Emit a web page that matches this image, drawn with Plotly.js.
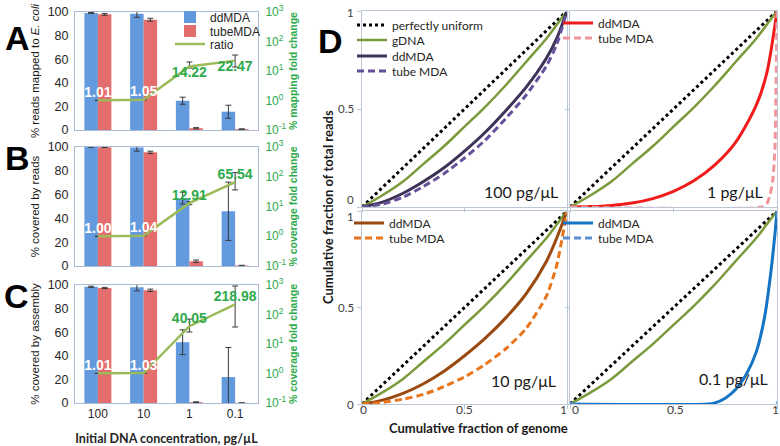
<!DOCTYPE html>
<html><head><meta charset="utf-8">
<script src="https://cdn.plot.ly/plotly-3.0.1.min.js"></script>
<style>html,body{margin:0;padding:0;background:#fff}#chart{width:780px;height:446px}</style>
</head><body><div id="chart"></div>
<script>
// ---------- Data: panels A-C ----------
const categories = ['100', '10', '1', '0.1'];
const logTickVals = [0.1, 1, 10, 100, 1000];
const logTickText = ['10<sup>-1</sup>', '10<sup>0</sup>', '10<sup>1</sup>', '10<sup>2</sup>', '10<sup>3</sup>'];

const ddA = [99.2, 98.5, 24.8, 15.5];
const ddAErr = [0.4, 3, 3, 5.5];
const tubeA = [98, 93.5, 1.5, 0.7];
const tubeAErr = [0.8, 1.2, 0.5, 0.3];
const ratioA = [1.01, 1.05, 14.22, 22.47];
const ratioAHi = [1.01, 1.05, 20.2, 34.8];
const ratioALo = [1.01, 1.05, 12.6, 13.7];

const ddB = [100, 99.5, 57, 46];
const ddBErr = [0.3, 3, 5, 24.5];
const tubeB = [99.8, 95.5, 4, 0.4];
const tubeBErr = [0.3, 1, 1, 0.2];
const ratioB = [1.00, 1.04, 12.91, 65.54];
const ratioBHi = [1.00, 1.04, 14.5, 137];
const ratioBLo = [1.00, 1.04, 11.5, 36];

const ddC = [98.5, 98, 51.5, 22];
const ddCErr = [0.5, 3, 10.5, 25];
const tubeC = [97.5, 95.5, 0.7, 0.1];
const tubeCErr = [0.5, 1, 0.3, 0];
const ratioC = [1.01, 1.03, 40.05, 218.98];
const ratioCHi = [1.01, 1.03, 70, 925];
const ratioCLo = [1.01, 1.03, 25.5, 37.7];

// ---------- Data: panel D (Lorenz curves) ----------
const uniformX = [0, 1];
const uniformY = [0, 1];
const gdnaX = [0, 0.1, 0.2, 0.3, 0.4, 0.5, 0.6, 0.7, 0.8, 0.9, 0.95, 1];
const gdnaY = [0, 0.06, 0.13, 0.22, 0.31, 0.41, 0.51, 0.62, 0.74, 0.86, 0.93, 1];
const curveX = [0, 0.1, 0.2, 0.3, 0.4, 0.5, 0.6, 0.7, 0.8, 0.9, 0.95, 1];
const dd100Y = [0, 0.025, 0.07, 0.13, 0.2, 0.285, 0.38, 0.49, 0.61, 0.76, 0.86, 1];
const tube100Y = [0, 0.015, 0.05, 0.105, 0.17, 0.25, 0.34, 0.45, 0.57, 0.72, 0.83, 1];
const dd10Y = [0, 0.02, 0.055, 0.105, 0.17, 0.25, 0.34, 0.445, 0.57, 0.74, 0.86, 1];
const tube10Y = [0, 0.008, 0.025, 0.05, 0.09, 0.14, 0.205, 0.285, 0.39, 0.56, 0.72, 1];
const dd1Y = [0, 0.002, 0.008, 0.02, 0.043, 0.08, 0.135, 0.215, 0.33, 0.52, 0.68, 1];
const tube1X = [0, 0.93, 0.95, 0.966, 0.98, 0.99, 0.995, 1];
const tube1Y = [0, 0, 0.015, 0.06, 0.14, 0.3, 0.6, 1];
const dd01X = [0, 0.665, 0.7, 0.75, 0.8, 0.85, 0.9, 0.94, 0.97, 0.99, 1];
const dd01Y = [0, 0, 0.006, 0.03, 0.075, 0.15, 0.27, 0.45, 0.68, 0.88, 1];
const tube01X = [0, 0.997, 1];
const tube01Y = [0, 0, 1];
const panelTickVals = [0, 0.5, 1];
const panelTickText = ['0', '0.5', '1'];

// ---------- Helpers ----------
const W = 780, H = 446;
const px = p => p / W;
const py = p => 1 - p / H;
const boxColor = '#a9bcd3';
const dBox = '#bcc7d6';
const green = '#2eaa4c';
const ratioGreen = '#9bbb59';
const blue = '#639ade';
const red = '#e46d6d';
const errColor = '#3a3a3a';
const arialF = 'Liberation Sans, Arial, sans-serif';
const lato = 'Lato, Carlito, sans-serif';

const traces = [];
const labelColors = ['#ffffff', '#ffffff', green, green];

function barPanel(dd, ddErr, tube, tubeErr, ratio, hi, lo, xa, ya, ya2, textPos, legs) {
  traces.push({
    type: 'bar', name: 'ddMDA', x: categories, y: dd, xaxis: xa, yaxis: ya,
    marker: { color: blue, line: { width: 0 } },
    error_y: { type: 'data', array: ddErr, color: errColor, thickness: 1, width: 3 },
    showlegend: !!legs, legend: legs ? legs[0] : undefined
  });
  traces.push({
    type: 'bar', name: 'tubeMDA', x: categories, y: tube, xaxis: xa, yaxis: ya,
    marker: { color: red, line: { width: 0 } },
    error_y: { type: 'data', array: tubeErr, color: errColor, thickness: 1, width: 3 },
    showlegend: !!legs, legend: legs ? legs[1] : undefined
  });
  traces.push({
    type: 'scatter', mode: 'lines+text', name: 'ratio', x: categories, y: ratio, xaxis: xa, yaxis: ya2,
    line: { color: ratioGreen, width: 2.5 },
    text: ratio.map(v => '<b>' + v.toFixed(2) + '</b>'),
    textposition: textPos,
    textfont: { family: arialF, size: 14, color: labelColors },
    cliponaxis: false,
    error_y: {
      type: 'data', symmetric: false,
      array: hi.map((h, i) => h - ratio[i]),
      arrayminus: lo.map((l, i) => ratio[i] - l),
      color: errColor, thickness: 1, width: 3
    },
    showlegend: !!legs, legend: legs ? legs[2] : undefined
  });
}

barPanel(ddA, ddAErr, tubeA, tubeAErr, ratioA, ratioAHi, ratioALo, 'x', 'y', 'y2',
  ['top center', 'top center', 'bottom center', 'bottom center'], ['legend', 'legend2', 'legend3']);
barPanel(ddB, ddBErr, tubeB, tubeBErr, ratioB, ratioBHi, ratioBLo, 'x2', 'y3', 'y4',
  ['top center', 'top center', 'top center', 'top center'], null);
barPanel(ddC, ddCErr, tubeC, tubeCErr, ratioC, ratioCHi, ratioCLo, 'x3', 'y5', 'y6',
  ['top center', 'top center', 'top center', 'top center'], null);

// Panel D
const dPanels = [
  { xa: 'x4', ya: 'y7', ddX: curveX, ddY: dd100Y, tX: curveX, tY: tube100Y, ddC: '#3d3258', tC: '#65519a', legs: ['legend4', 'legend5', 'legend6', 'legend7'] },
  { xa: 'x5', ya: 'y8', ddX: curveX, ddY: dd1Y, tX: tube1X, tY: tube1Y, ddC: '#f01c1c', tC: '#f2959b', legs: [null, null, 'legend8', 'legend9'] },
  { xa: 'x6', ya: 'y9', ddX: curveX, ddY: dd10Y, tX: curveX, tY: tube10Y, ddC: '#9a4a10', tC: '#e8741c', legs: [null, null, 'legend10', 'legend11'] },
  { xa: 'x7', ya: 'y10', ddX: dd01X, ddY: dd01Y, tX: tube01X, tY: tube01Y, ddC: '#1473c4', tC: '#5b8fd0', legs: [null, null, 'legend12', 'legend13'] }
];
dPanels.forEach(p => {
  traces.push({ type: 'scatter', mode: 'lines', name: 'perfectly uniform', x: uniformX, y: uniformY,
    xaxis: p.xa, yaxis: p.ya, line: { color: '#000', width: 3, dash: '3px,3px' },
    showlegend: !!p.legs[0], legend: p.legs[0] || undefined });
  traces.push({ type: 'scatter', mode: 'lines', name: 'gDNA', x: gdnaX, y: gdnaY,
    xaxis: p.xa, yaxis: p.ya, line: { color: '#7a9a3c', width: 2.5, shape: 'spline' },
    showlegend: !!p.legs[1], legend: p.legs[1] || undefined });
  traces.push({ type: 'scatter', mode: 'lines', name: 'ddMDA', x: p.ddX, y: p.ddY,
    xaxis: p.xa, yaxis: p.ya, line: { color: p.ddC, width: 3, shape: 'spline', smoothing: 0.8 },
    showlegend: true, legend: p.legs[2] });
  traces.push({ type: 'scatter', mode: 'lines', name: 'tube MDA', x: p.tX, y: p.tY,
    xaxis: p.xa, yaxis: p.ya, line: { color: p.tC, width: 3, dash: '7px,4px', shape: 'spline', smoothing: 0.6 },
    showlegend: true, legend: p.legs[3] });
});

// ---------- Layout ----------
const barX = [px(75), px(258)];
const domA = [py(130), py(12)];
const domB = [py(266), py(147)];
const domC = [py(403), py(285)];

function catAxis(anchor, showLabels, title) {
  const a = {
    domain: barX, anchor: anchor, type: 'category', showline: true, mirror: true, linecolor: boxColor, linewidth: 1,
    showgrid: false, zeroline: false, ticks: '', showticklabels: showLabels,
    tickfont: { family: arialF, size: 12, color: '#262626' }, fixedrange: true
  };
  if (title) a.title = { text: title, font: { family: lato, size: 12.5, color: '#262626', weight: 'bold' }, standoff: 13 };
  return a;
}
function leftAxis(anchor, dom, title) {
  return {
    domain: dom, anchor: anchor, range: [0, 100], dtick: 20, showline: true, mirror: true, linecolor: boxColor,
    showgrid: false, zeroline: false, ticks: 'outside', ticklen: 3, tickcolor: 'rgba(0,0,0,0)',
    tickfont: { family: arialF, size: 12.5, color: '#262626' },
    title: { text: title, font: { family: arialF, size: 11.5, color: '#1a1a1a' }, standoff: 5 }
  };
}
function rightAxis(anchor, over, title) {
  return {
    overlaying: over, anchor: anchor, side: 'right', type: 'log', range: [-1, 3],
    tickvals: logTickVals, ticktext: logTickText, showgrid: false, zeroline: false, showline: false,
    ticks: 'outside', ticklen: 4, tickcolor: 'rgba(0,0,0,0)',
    tickfont: { family: arialF, size: 12, color: green },
    title: { text: title, font: { family: arialF, size: 10.5, color: green, weight: 'bold' }, standoff: 4 }
  };
}

const dxL = [px(362), px(567)], dxR = [px(570), px(777)];
const dyT = [py(207), py(11)], dyB = [py(404), py(211)];
const dTickFont = { family: lato, size: 12, color: '#404040' };
function dX(dom, anchor) {
  return { domain: dom, anchor: anchor, range: [0, 1], tickvals: panelTickVals,
    showticklabels: false, ticks: 'outside', ticklen: 4, tickcolor: dBox, showline: true, mirror: true,
    linecolor: dBox, showgrid: false, zeroline: false };
}
function dY(dom, anchor) {
  return { domain: dom, anchor: anchor, range: [0, 1], tickvals: panelTickVals,
    showticklabels: false, ticks: 'outside', ticklen: 4, tickcolor: dBox, showline: true, mirror: true,
    linecolor: dBox, showgrid: false, zeroline: false };
}

function leg(xp, yp, fam, size) {
  return { x: px(xp), y: py(yp), xanchor: 'left', yanchor: 'middle', bgcolor: 'rgba(0,0,0,0)', borderwidth: 0,
    font: { family: fam, size: size, color: '#262626' }, itemwidth: 30 };
}

const annotations = [
  { text: '<b>A</b>', xref: 'paper', yref: 'paper', x: px(3), xanchor: 'left', y: py(17), showarrow: false, font: { family: arialF, size: 34, color: '#000' } },
  { text: '<b>B</b>', xref: 'paper', yref: 'paper', x: px(3), xanchor: 'left', y: py(158), showarrow: false, font: { family: arialF, size: 34, color: '#000' } },
  { text: '<b>C</b>', xref: 'paper', yref: 'paper', x: px(2), xanchor: 'left', y: py(296), showarrow: false, font: { family: arialF, size: 34, color: '#000' } },
  { text: '<b>D</b>', xref: 'paper', yref: 'paper', x: px(316), xanchor: 'left', y: py(20), showarrow: false, font: { family: arialF, size: 34, color: '#000' } },
  { text: '<b>Cumulative fraction of total reads</b>', xref: 'paper', yref: 'paper', x: px(328), y: py(207), textangle: -90, showarrow: false, font: { family: lato, size: 13, color: '#1a1a1a' } },
  { text: '<b>Cumulative fraction of genome</b>', xref: 'paper', yref: 'paper', x: px(570), y: py(438), showarrow: false, font: { family: lato, size: 13, color: '#1a1a1a' } },
  { text: '100 pg/\u03bcL', xref: 'x4', yref: 'y7', x: 0.966, y: 0.08, xanchor: 'right', showarrow: false, font: { family: lato, size: 16, color: '#1a1a1a' } },
  { text: '1 pg/\u03bcL', xref: 'x5', yref: 'y8', x: 0.942, y: 0.08, xanchor: 'right', showarrow: false, font: { family: lato, size: 16, color: '#1a1a1a' } },
  { text: '10 pg/\u03bcL', xref: 'x6', yref: 'y9', x: 0.956, y: 0.12, xanchor: 'right', showarrow: false, font: { family: lato, size: 16, color: '#1a1a1a' } },
  { text: '0.1 pg/\u03bcL', xref: 'x7', yref: 'y10', x: 0.966, y: 0.13, xanchor: 'right', showarrow: false, font: { family: lato, size: 16, color: '#1a1a1a' } }
];
// D tick labels (y on left panels, x on bottom panels)
const yShiftTop = [7, 0, -2];
const yShiftBot = [0, 0, -6];
panelTickVals.forEach((v, i) => {
  annotations.push({ text: panelTickText[i], xref: 'paper', yref: 'y7', x: px(356), xanchor: 'right', y: v, yshift: yShiftTop[i], showarrow: false, font: { family: lato, size: 11.5, color: '#404040' } });
  annotations.push({ text: panelTickText[i], xref: 'paper', yref: 'y9', x: px(356), xanchor: 'right', y: v, yshift: yShiftBot[i], showarrow: false, font: { family: lato, size: 11.5, color: '#404040' } });
});
const xShiftL = [1, 0, -4];
const xShiftR = [5, 2, -2];
panelTickVals.forEach((v, i) => {
  annotations.push({ text: panelTickText[i], xref: 'x6', yref: 'paper', x: v, xshift: xShiftL[i], y: py(419), showarrow: false, font: dTickFont });
  annotations.push({ text: panelTickText[i], xref: 'x7', yref: 'paper', x: v, xshift: xShiftR[i], y: py(419), showarrow: false, font: dTickFont });
});

const layout = {
  width: W, height: H, margin: { l: 0, r: 0, t: 0, b: 0 },
  paper_bgcolor: '#fff', plot_bgcolor: 'rgba(0,0,0,0)',
  font: { family: arialF, color: '#262626' },
  barmode: 'group', bargap: 0.41, bargroupgap: 0,
  xaxis: catAxis('y', false),
  yaxis: leftAxis('x', domA, '% reads mapped to <i>E. coli</i>'),
  yaxis2: rightAxis('x', 'y', '% mapping fold change'),
  xaxis2: catAxis('y3', false),
  yaxis3: leftAxis('x2', domB, '% covered by reads'),
  yaxis4: rightAxis('x2', 'y3', '% coverage fold change'),
  xaxis3: catAxis('y5', true, 'Initial DNA concentration, pg/\u00b5L'),
  yaxis5: leftAxis('x3', domC, '% covered by assembly'),
  yaxis6: rightAxis('x3', 'y5', '% coverage fold change'),
  xaxis4: dX(dxL, 'y7'),
  yaxis7: dY(dyT, 'x4'),
  xaxis5: dX(dxR, 'y8'),
  yaxis8: dY(dyT, 'x5'),
  xaxis6: dX(dxL, 'y9'),
  yaxis9: dY(dyB, 'x6'),
  xaxis7: dX(dxR, 'y10'),
  yaxis10: dY(dyB, 'x7'),
  legend: leg(170, 17, arialF, 12),
  legend2: leg(170, 31, arialF, 12),
  legend3: leg(170, 44, arialF, 12),
  legend4: leg(352, 25, lato, 12),
  legend5: leg(352, 40, lato, 12),
  legend6: leg(352, 56, lato, 12),
  legend7: leg(352, 71, lato, 12),
  legend8: leg(558, 23, lato, 12),
  legend9: leg(558, 38, lato, 12),
  legend10: leg(349, 223, lato, 12),
  legend11: leg(349, 238, lato, 12),
  legend12: leg(558, 223, lato, 12),
  legend13: leg(558, 238, lato, 12),
  annotations: annotations
};

Plotly.newPlot('chart', traces, layout, { staticPlot: true, displayModeBar: false });
</script>
</body></html>
